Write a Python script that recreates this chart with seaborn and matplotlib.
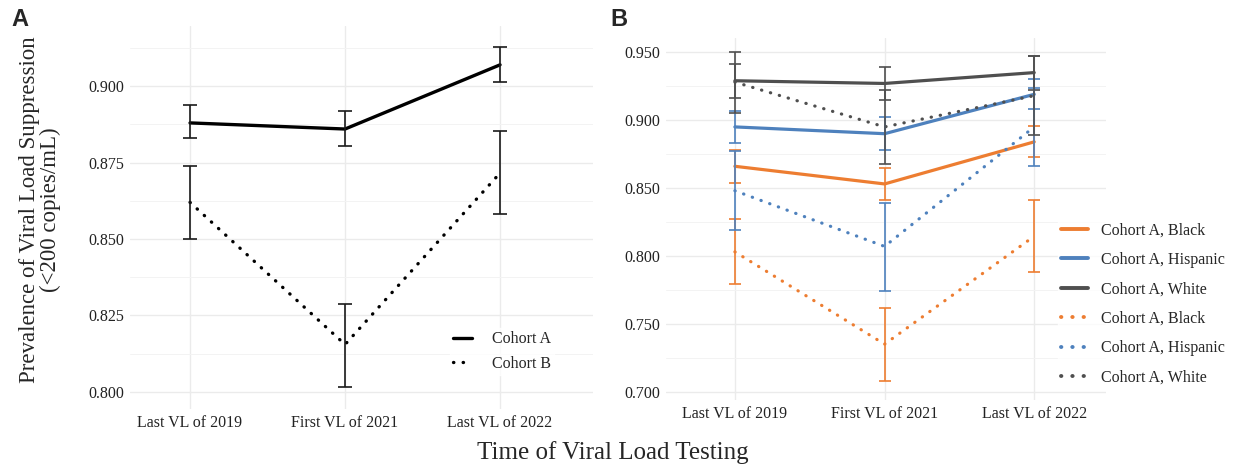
import numpy as np
import pandas as pd
import matplotlib
matplotlib.use("Agg")
import matplotlib.pyplot as plt
from matplotlib.lines import Line2D
from matplotlib.ticker import MultipleLocator, FormatStrFormatter
import seaborn as sns

timepoints = ["Last VL of 2019", "First VL of 2021", "Last VL of 2022"]

# panel A: overall cohorts (estimate, lower, upper)
cohort_a = [0.888, 0.886, 0.907]
cohort_a_lo = [0.883, 0.8805, 0.9015]
cohort_a_hi = [0.894, 0.892, 0.9127]
cohort_b = [0.862, 0.8155, 0.8716]
cohort_b_lo = [0.850, 0.8016, 0.8581]
cohort_b_hi = [0.874, 0.8286, 0.8852]

# panel B: by race (solid = cohort A, dotted = cohort B)
races = ["Black", "Hispanic", "White"]
race_a = {
    "Black": [0.866, 0.853, 0.884],
    "Hispanic": [0.895, 0.890, 0.919],
    "White": [0.929, 0.927, 0.935],
}
race_a_lo = {
    "Black": [0.854, 0.841, 0.8725],
    "Hispanic": [0.883, 0.878, 0.908],
    "White": [0.905, 0.915, 0.922],
}
race_a_hi = {
    "Black": [0.878, 0.865, 0.8955],
    "Hispanic": [0.9065, 0.902, 0.930],
    "White": [0.950, 0.939, 0.947],
}
race_b = {
    "Black": [0.803, 0.735, 0.8145],
    "Hispanic": [0.848, 0.807, 0.895],
    "White": [0.928, 0.895, 0.918],
}
race_b_lo = {
    "Black": [0.779, 0.708, 0.788],
    "Hispanic": [0.819, 0.774, 0.866],
    "White": [0.9165, 0.868, 0.889],
}
race_b_hi = {
    "Black": [0.827, 0.762, 0.841],
    "Hispanic": [0.877, 0.839, 0.924],
    "White": [0.941, 0.922, 0.947],
}
race_colors = {"Black": "#ED7D31", "Hispanic": "#4E81BD", "White": "#4F4F4F"}

sns.set_theme(style="whitegrid")
plt.rcParams["font.family"] = ["Liberation Serif", "DejaVu Serif"]

DOT = (0.1, 2.8)
pos = np.arange(len(timepoints))

fig = plt.figure(figsize=(12.35, 4.67), dpi=100)
fig.patch.set_facecolor("white")
axA = fig.add_axes([0.1053, 0.1242, 0.3749, 0.8201])
axB = fig.add_axes([0.5393, 0.1435, 0.3563, 0.7752])


def style_axis(ax, major, minor, ylim, xlim):
    ax.set_facecolor("white")
    ax.set_xlim(*xlim)
    ax.set_ylim(*ylim)
    ax.set_xticks(pos)
    ax.set_xticklabels(timepoints)
    ax.yaxis.set_major_locator(MultipleLocator(major))
    ax.yaxis.set_minor_locator(MultipleLocator(minor))
    ax.yaxis.set_major_formatter(FormatStrFormatter("%.3f"))
    ax.grid(which="major", color="#EBEBEB", linewidth=1.0)
    ax.grid(which="minor", axis="y", color="#F3F3F3", linewidth=0.7)
    ax.grid(which="minor", axis="x", visible=False)
    for s in ax.spines.values():
        s.set_visible(False)
    ax.tick_params(axis="both", which="both", length=0, labelsize=11.5,
                   labelcolor="#222222", pad=4)
    ax.set_xlabel("")
    ax.set_ylabel("")


# ---- panel A
dfA = pd.DataFrame({
    "pos": np.concatenate([pos, pos]),
    "value": cohort_a + cohort_b,
    "cohort": ["Cohort A"] * 3 + ["Cohort B"] * 3,
})
sns.lineplot(data=dfA, x="pos", y="value", style="cohort",
             dashes={"Cohort A": "", "Cohort B": DOT}, color="black",
             linewidth=2.4, legend=False, errorbar=None, sort=False, ax=axA)
for mid, lo, hi in [(cohort_a, cohort_a_lo, cohort_a_hi),
                    (cohort_b, cohort_b_lo, cohort_b_hi)]:
    mid, lo, hi = map(np.array, (mid, lo, hi))
    axA.errorbar(pos, mid, yerr=[mid - lo, hi - mid], fmt="none",
                 ecolor="#1a1a1a", elinewidth=1.2, capsize=5, capthick=1.2)
for ln in axA.lines:
    ln.set_dash_capstyle("round")
style_axis(axA, 0.025, 0.0125, (0.7944, 0.9197), (-0.387, 2.6))

hA = [Line2D([], [], color="black", lw=2.4),
      Line2D([], [], color="black", lw=2.4, linestyle=(0, DOT),
             dash_capstyle="round")]
legA = axA.legend(hA, ["Cohort A", "Cohort B"], loc="upper left",
                  bbox_to_anchor=(450 / 1235, 1 - 328 / 467),
                  bbox_transform=fig.transFigure, frameon=True, fontsize=11.5,
                  handlelength=1.2, handletextpad=1.2, labelspacing=0.55,
                  borderpad=0.2, borderaxespad=0)
legA.get_frame().set_facecolor("white")
legA.get_frame().set_edgecolor("white")

# ---- panel B
rows = []
for cohort, src in [("Cohort A", race_a), ("Cohort B", race_b)]:
    for r in races:
        for p, v in zip(pos, src[r]):
            rows.append({"pos": p, "value": v, "race": r, "cohort": cohort})
dfB = pd.DataFrame(rows)
sns.lineplot(data=dfB, x="pos", y="value", hue="race", style="cohort",
             palette=race_colors, dashes={"Cohort A": "", "Cohort B": DOT},
             linewidth=2.3, legend=False, errorbar=None, sort=False, ax=axB)
for src, lo_d, hi_d in [(race_a, race_a_lo, race_a_hi),
                        (race_b, race_b_lo, race_b_hi)]:
    for r in races:
        mid, lo, hi = map(np.array, (src[r], lo_d[r], hi_d[r]))
        axB.errorbar(pos, mid, yerr=[mid - lo, hi - mid], fmt="none",
                     ecolor=race_colors[r], elinewidth=1.2, capsize=4.5,
                     capthick=1.2)
for ln in axB.lines:
    ln.set_dash_capstyle("round")
style_axis(axB, 0.05, 0.025, (0.6939, 0.9605), (-0.46, 2.48))

hB, lB = [], []
for ls in ["-", (0, DOT)]:
    for r in races:
        hB.append(Line2D([], [], color=race_colors[r], lw=2.8, linestyle=ls,
                         dash_capstyle="round"))
        lB.append(f"Cohort A, {r}")
legB = axB.legend(hB, lB, loc="upper left",
                  bbox_to_anchor=(1058 / 1235, 1 - 219 / 467),
                  bbox_transform=fig.transFigure, frameon=True, fontsize=11.5,
                  handlelength=1.7, handletextpad=0.8, labelspacing=0.85,
                  borderpad=0.2, borderaxespad=0)
legB.get_frame().set_facecolor("white")
legB.get_frame().set_edgecolor("white")

# ---- shared labels
fig.text(40 / 1235, 1 - 210 / 467,
         "Prevalence of Viral Load Suppression\n(<200 copies/mL)",
         rotation=90, ha="center", va="center", multialignment="center",
         fontsize=16.5, linespacing=1.05)
fig.text(613 / 1235, 1 - 453 / 467, "Time of Viral Load Testing",
         ha="center", va="center", fontsize=18)
fig.text(20 / 1235, 1 - 20 / 467, "A", ha="center", va="center",
         fontsize=17, fontweight="bold", family=["Liberation Sans", "DejaVu Sans"])
fig.text(619 / 1235, 1 - 20 / 467, "B", ha="center", va="center",
         fontsize=17, fontweight="bold", family=["Liberation Sans", "DejaVu Sans"])

fig.savefig("out.png", dpi=100, facecolor="white")
